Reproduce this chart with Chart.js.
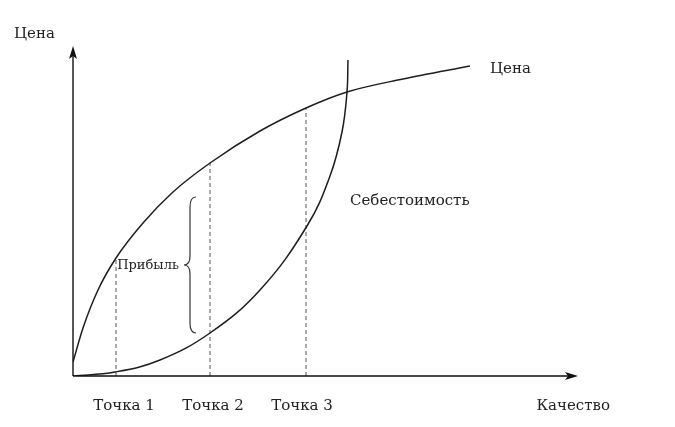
<!DOCTYPE html>
<html>
<head>
<meta charset="utf-8">
<script src="https://cdn.jsdelivr.net/npm/chart.js@4/dist/chart.umd.min.js"></script>
<style>
  html, body { margin: 0; padding: 0; background: #fff; }
  #wrap { width: 675px; height: 427px; }
</style>
</head>
<body>
<div id="wrap"><canvas id="grafico"></canvas></div>
<script>
// кривая цены (качество -> цена)
var precoX = [0, 10, 25, 43, 70, 100, 137, 187, 233, 274, 330, 397];
var precoY = [14, 48, 86, 118, 153, 184, 213, 245, 268, 284, 297, 310];

// кривая себестоимости
var custoX = [0, 42, 87, 137, 187, 234, 257, 269, 274, 275];
var custoY = [0, 4, 16, 43, 86, 150, 200, 244, 284, 316];

// точки на оси качества
var pontosLabels = ['Точка 1', 'Точка 2', 'Точка 3'];
var pontosX = [43, 137, 233];
var pontosTopo = [118, 213, 268];

var eixoXMax = 505;
var eixoYMax = 330;
var fonte = '"DejaVu Serif", serif';

function pares(xs, ys) {
    return xs.map(function(x, i) { return { x: x, y: ys[i] }; });
}

var datasets = [
    {
        label: 'Цена',
        data: pares(precoX, precoY),
        borderColor: '#1e1e1e',
        borderWidth: 1.5,
        pointRadius: 0,
        cubicInterpolationMode: 'monotone',
        showLine: true
    },
    {
        label: 'Себестоимость',
        data: pares(custoX, custoY),
        borderColor: '#1e1e1e',
        borderWidth: 1.5,
        pointRadius: 0,
        tension: 0.4,
        showLine: true
    }
];

pontosX.forEach(function(x, i) {
    datasets.push({
        label: pontosLabels[i],
        data: [{ x: x, y: 0 }, { x: x, y: pontosTopo[i] }],
        borderColor: '#555',
        borderWidth: 1,
        borderDash: [4, 3],
        pointRadius: 0,
        showLine: true
    });
});

// оси со стрелками, подписи и фигурная скобка
var desenhoExtra = {
    id: 'desenhoExtra',
    afterDatasetsDraw: function(chart) {
        var ctx = chart.ctx;
        var sx = chart.scales.x, sy = chart.scales.y;
        var x0 = sx.getPixelForValue(0), y0 = sy.getPixelForValue(0);
        var xFim = sx.getPixelForValue(eixoXMax), yFim = sy.getPixelForValue(eixoYMax);

        ctx.save();
        ctx.strokeStyle = '#111';
        ctx.fillStyle = '#111';
        ctx.lineWidth = 1.4;
        ctx.beginPath();
        ctx.moveTo(x0, y0);
        ctx.lineTo(xFim - 4, y0);
        ctx.moveTo(x0, y0);
        ctx.lineTo(x0, yFim + 4);
        ctx.stroke();

        // стрелки
        ctx.beginPath();
        ctx.moveTo(xFim, y0);
        ctx.lineTo(xFim - 13, y0 - 4);
        ctx.lineTo(xFim - 10, y0);
        ctx.lineTo(xFim - 13, y0 + 4);
        ctx.closePath();
        ctx.fill();
        ctx.beginPath();
        ctx.moveTo(x0, yFim);
        ctx.lineTo(x0 - 4, yFim + 13);
        ctx.lineTo(x0, yFim + 10);
        ctx.lineTo(x0 + 4, yFim + 13);
        ctx.closePath();
        ctx.fill();

        // фигурная скобка
        var bx = sx.getPixelForValue(117);
        var bTop = sy.getPixelForValue(179);
        var bBot = sy.getPixelForValue(43);
        var bMid = sy.getPixelForValue(111);
        var w = 6;
        ctx.lineWidth = 1.2;
        ctx.strokeStyle = '#333';
        ctx.beginPath();
        ctx.moveTo(bx + w, bTop);
        ctx.quadraticCurveTo(bx, bTop, bx, bTop + 10);
        ctx.lineTo(bx, bMid - 9);
        ctx.quadraticCurveTo(bx, bMid, bx - w, bMid);
        ctx.quadraticCurveTo(bx, bMid, bx, bMid + 9);
        ctx.lineTo(bx, bBot - 10);
        ctx.quadraticCurveTo(bx, bBot, bx + w, bBot);
        ctx.stroke();

        // подписи
        ctx.fillStyle = '#222';
        ctx.textBaseline = 'alphabetic';
        ctx.font = '15px ' + fonte;
        ctx.textAlign = 'left';
        ctx.fillText('Цена', 14, 38);
        ctx.fillText('Цена', sx.getPixelForValue(417), sy.getPixelForValue(303));
        ctx.fillText('Себестоимость', sx.getPixelForValue(277), sy.getPixelForValue(171));
        ctx.textAlign = 'center';
        pontosX.forEach(function(x, i) {
            ctx.fillText(pontosLabels[i], sx.getPixelForValue(x) + (i === 0 ? 8 : (i === 2 ? -4 : 3)), 410);
        });
        ctx.textAlign = 'right';
        ctx.fillText('Качество', 610, 410);
        ctx.font = '13px ' + fonte;
        ctx.fillText('Прибыль', bx - 11, bMid + 4);
        ctx.restore();
    }
};

var ctx = document.getElementById('grafico').getContext('2d');
new Chart(ctx, {
    type: 'scatter',
    data: { datasets: datasets },
    options: {
        responsive: true,
        maintainAspectRatio: false,
        animation: false,
        layout: { padding: { left: 73, top: 46, right: 97, bottom: 51 } },
        plugins: { legend: { display: false }, tooltip: { enabled: false } },
        scales: {
            x: { type: 'linear', display: false, min: 0, max: eixoXMax },
            y: { type: 'linear', display: false, min: 0, max: eixoYMax }
        }
    },
    plugins: [desenhoExtra]
});
</script>
</body>
</html>
